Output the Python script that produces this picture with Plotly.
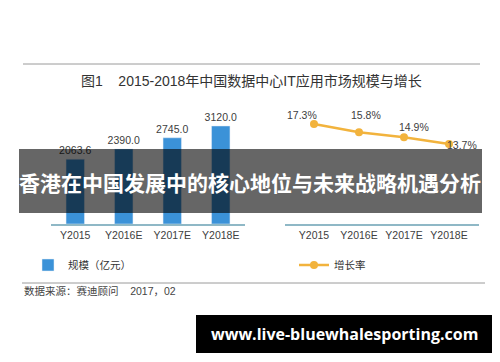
import plotly.graph_objects as go

# ---- data ----
categories = ["Y2015", "Y2016E", "Y2017E", "Y2018E"]
market_size = [2063.6, 2390.0, 2745.0, 3120.0]          # 规模（亿元）
growth_rate = [17.3, 15.8, 14.9, 13.7]                   # 增长率 (%)
bar_labels = ["2063.6", "2390.0", "2745.0", "3120.0"]
rate_labels = ["17.3%", "15.8%", "14.9%", "13.7%"]

title_text = "图1    2015-2018年中国数据中心IT应用市场规模与增长"
source_text = "数据来源：赛迪顾问    2017，02"
banner_text = "香港在中国发展中的核心地位与未来战略机遇分析"
url_text = "www.live-bluewhalesporting.com"

W, H = 500, 362
def px(x):
    return x / W
def py(y):
    return 1 - y / H

FONT = "Liberation Sans, Arial, Noto Sans CJK SC, sans-serif"
BAR_COLOR = "#3b92d8"
LINE_COLOR = "#f2b33d"
AXIS_COLOR = "#8fb8c6"
TEXT_COLOR = "#404040"

fig = go.Figure()

fig.add_trace(go.Bar(
    x=categories, y=market_size, name="规模（亿元）",
    marker=dict(color=BAR_COLOR), width=0.38,
    text=bar_labels, textposition="outside", cliponaxis=False, constraintext="none",
    textfont=dict(size=10.5, color=TEXT_COLOR, family=FONT),
    xaxis="x", yaxis="y", legend="legend",
))

fig.add_trace(go.Scatter(
    x=categories, y=growth_rate, name="增长率", mode="lines+markers",
    line=dict(color=LINE_COLOR, width=2.5),
    marker=dict(color=LINE_COLOR, size=8),
    xaxis="x2", yaxis="y2", legend="legend2", cliponaxis=False,
))

# point labels for the growth line (offsets are styling)
label_shift = [(-12, 9), (7, 17), (10, 10), (13, -1)]
annotations = []
for cat, val, lab, (dx, dy) in zip(categories, growth_rate, rate_labels, label_shift):
    annotations.append(dict(
        x=cat, y=val, xref="x2", yref="y2", text=lab, showarrow=False,
        xshift=dx, yshift=dy, font=dict(size=10.5, color=TEXT_COLOR, family=FONT),
    ))

# title
annotations.append(dict(
    x=px(251), y=py(81), xref="paper", yref="paper", text=title_text,
    showarrow=False, xanchor="center", yanchor="middle",
    font=dict(size=14, color="#333333", family=FONT),
))
# source
annotations.append(dict(
    x=px(22), y=py(291), xref="paper", yref="paper", text=source_text,
    showarrow=False, xanchor="left", yanchor="middle",
    font=dict(size=10.5, color="#444444", family=FONT),
))
# banner text
annotations.append(dict(
    x=px(250), y=py(182), xref="paper", yref="paper", text="<b>" + banner_text + "</b>",
    showarrow=False, xanchor="center", yanchor="middle",
    font=dict(size=21, color="white", family="Noto Sans CJK SC, sans-serif"),
))
# url text
annotations.append(dict(
    x=px(344), y=py(334), xref="paper", yref="paper", text="<b>" + url_text + "</b>",
    showarrow=False, xanchor="center", yanchor="middle",
    font=dict(size=16, color="white", family="Open Sans, sans-serif"),
))

shapes = [
    # top rule
    dict(type="line", xref="paper", yref="paper", x0=px(23), x1=px(480), y0=py(64), y1=py(64),
         line=dict(color="#9a9a9a", width=1)),
    # source rule
    dict(type="line", xref="paper", yref="paper", x0=px(22), x1=px(485), y0=py(283), y1=py(283),
         line=dict(color="#9a9a9a", width=1)),
    # dark translucent banner
    dict(type="rect", xref="paper", yref="paper", x0=px(19), x1=px(482), y0=py(213), y1=py(149),
         fillcolor="rgba(0,0,0,0.6)", line=dict(width=0), layer="above"),
    # black url box
    dict(type="rect", xref="paper", yref="paper", x0=px(196), x1=px(492), y0=py(353), y1=py(315),
         fillcolor="black", line=dict(width=0), layer="above"),
]

y_dom = [py(224), py(110)]

fig.update_layout(
    width=W, height=H, margin=dict(l=0, r=0, t=0, b=0),
    paper_bgcolor="white", plot_bgcolor="white",
    font=dict(family=FONT, color=TEXT_COLOR),
    xaxis=dict(domain=[px(51), px(245)], showline=True, linecolor=AXIS_COLOR, linewidth=2,
               showgrid=False, ticks="", tickfont=dict(size=10.5, color=TEXT_COLOR), fixedrange=True),
    yaxis=dict(domain=y_dom, range=[0, 3629], visible=False, showgrid=False),
    xaxis2=dict(domain=[px(285), px(479)], showline=True, linecolor=AXIS_COLOR, linewidth=2,
                showgrid=False, ticks="", tickfont=dict(size=10.5, color=TEXT_COLOR), anchor="y2"),
    yaxis2=dict(domain=y_dom, range=[-0.69, 19.81], visible=False, showgrid=False, anchor="x2"),
    legend=dict(x=px(28), y=py(265), xanchor="left", yanchor="middle", bgcolor="rgba(0,0,0,0)",
                font=dict(size=10.5, color="#333333", family=FONT), itemwidth=30),
    legend2=dict(x=px(294), y=py(265), xanchor="left", yanchor="middle", bgcolor="rgba(0,0,0,0)",
                 font=dict(size=10.5, color="#333333", family=FONT), itemwidth=30),
    showlegend=True,
    annotations=annotations,
    shapes=shapes,
    bargap=0.6,
)

fig.write_html("out.html", config={"displayModeBar": False},
               post_script="document.body.style.margin='0';document.body.style.padding='0';")
